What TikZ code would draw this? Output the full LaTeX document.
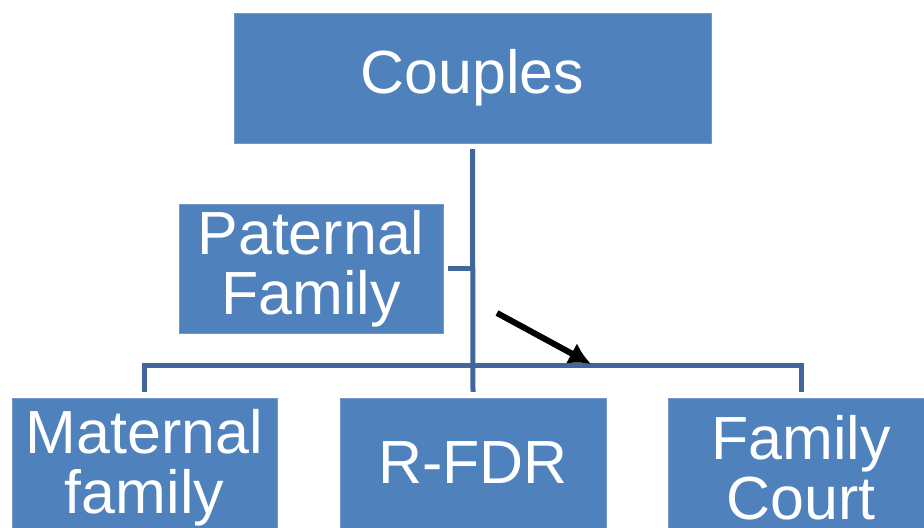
\documentclass[tikz,border=0pt]{standalone}
\usepackage{fontspec}
\setmainfont{Liberation Sans}
\usetikzlibrary{arrows.meta}
\definecolor{boxblue}{HTML}{4F81BD}
\definecolor{boxedge}{HTML}{7198C8}
\definecolor{linkblue}{HTML}{41679A}
\tikzstyle{box}=[rectangle,fill=boxblue,draw=boxedge,line width=0.4pt,text=white,inner sep=0pt,align=center,font=\fontsize{52}{51}\selectfont]
\tikzstyle{link}=[draw=linkblue,line width=0.15cm]
\tikzstyle{pointer}=[draw=black,line width=0.18cm,-{Latex[length=0.66cm,width=0.7cm]}]

\begin{document}
\begin{tikzpicture}[x=0.03cm,y=-0.03cm]
\useasboundingbox (0,0) rectangle (924,527);
\clip (0,0) rectangle (924,527);

\node[box,minimum width=14.31cm,minimum height=3.9cm] (couples) at (472.5,78) {Couples};
\node[box,minimum width=7.92cm,minimum height=3.87cm] (paternal) at (311,268.5) {Paternal\\Family};
\node[box,minimum width=7.95cm,minimum height=4.2cm] (maternal) at (144.5,468) {Maternal\\family};
\node[box,minimum width=7.98cm,minimum height=3.9cm] (rfdr) at (473,463) {R-FDR};
\node[box,minimum width=7.98cm,minimum height=4.2cm] (court) at (801,468) {Family\\Court};

\draw[link] ([yshift=-0.18cm]couples.south) -- ([yshift=0.18cm]rfdr.north);
\draw[link] ([xshift=0.15cm]paternal.east) -- (paternal.east -| couples.south);
\draw[link] ([yshift=0.18cm]maternal.north) -- ++(0,-26) -| ([yshift=0.18cm]court.north);

\coordinate (tail) at (497,313);
\coordinate (head) at (591,364);
\draw[pointer] (tail) -- (head);

\end{tikzpicture}
\end{document}
